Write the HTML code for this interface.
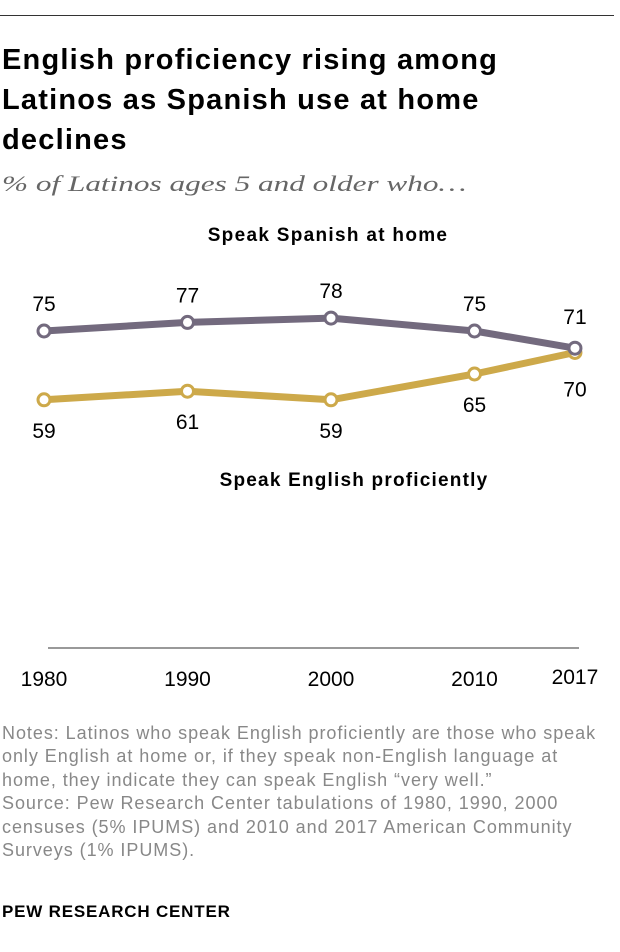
<!DOCTYPE html>
<html><head><meta charset="utf-8"><style>
body{margin:0;width:620px;height:952px;background:#fff;font-family:"Liberation Sans",sans-serif;position:relative;overflow:hidden}
.abs{position:absolute}
</style></head><body>
<div class="abs" style="left:0;top:15px;width:614px;height:1px;background:#333"></div>
<div class="abs" style="left:2px;top:40px;width:530px;font-weight:bold;font-size:29px;letter-spacing:1.2px;line-height:40px;color:#000">English proficiency rising among Latinos as Spanish use at home declines</div>
<div class="abs" style="left:2px;top:171px;font-family:'Liberation Serif',serif;font-style:italic;font-size:22px;color:#666;transform:scaleX(1.42);transform-origin:left;white-space:nowrap">% of Latinos ages 5 and older who…</div>
<svg class="abs" style="left:0;top:0" width="620" height="720">
<g id="g"></g>
</svg>
<div class="abs" style="left:2px;top:722px;width:618px;font-size:18px;letter-spacing:0.95px;line-height:23.4px;color:#888;white-space:nowrap">Notes: Latinos who speak English proficiently are those who speak<br>only English at home or, if they speak non-English language at<br>home, they indicate they can speak English “very well.”<br>Source: Pew Research Center tabulations of 1980, 1990, 2000<br>censuses (5% IPUMS) and 2010 and 2017 American Community<br>Surveys (1% IPUMS).</div>
<div class="abs" style="left:2px;top:902px;font-size:17px;letter-spacing:0.8px;font-weight:bold;color:#000">PEW RESEARCH CENTER</div>
<script>
const years=[1980,1990,2000,2010,2017];
const spanish=[75,77,78,75,71];
const english=[59,61,59,65,70];
const tickLabels=["1980","1990","2000","2010","2017"];
const X=y=>44+(y-1980)*14.35;
const Y=v=>331-(v-75)*4.3;
const g=document.getElementById('g');
const NS='http://www.w3.org/2000/svg';
function mk(t,a){const e=document.createElementNS(NS,t);for(const k in a)e.setAttribute(k,a[k]);g.appendChild(e);return e;}
let ax=mk('line',{x1:48,x2:579,y1:648,y2:648,stroke:'#999','stroke-width':2});


years.forEach((yr,i)=>{
 const t=mk('text',{x:X(yr),y:i==4?684:686,'text-anchor':'middle','font-size':21,fill:'#000'});
 t.textContent=tickLabels[i];
 
 
});
function series(vals,col,name,above){
 const p=mk('polyline',{points:vals.map((v,i)=>X(years[i])+','+Y(v)).join(' '),fill:'none',stroke:col,'stroke-width':7,'stroke-linejoin':'round'});
 
 
 vals.forEach((v,i)=>{
  const c=mk('circle',{cx:X(years[i]),cy:Y(v),r:6,fill:'#fff',stroke:col,'stroke-width':3});
  
  
  let ly=above?Y(v)-20:Y(v)+38;
  if(i==4) ly=above?Y(v)-24:Y(v)+44;
  const t=mk('text',{x:X(years[i]),y:ly,'text-anchor':'middle','font-size':21,fill:'#000'});
  t.textContent=v;
  
  
 });
}
series(english,'#cda94a','english',false);
series(spanish,'#736a7e','spanish',true);
let l1=mk('text',{x:328,y:241,'text-anchor':'middle','font-size':19,'letter-spacing':1.3,'font-weight':'bold',fill:'#000'});
l1.textContent='Speak Spanish at home';


let l2=mk('text',{x:354,y:486,'text-anchor':'middle','font-size':19,'letter-spacing':1.2,'font-weight':'bold',fill:'#000'});
l2.textContent='Speak English proficiently';


</script>
</body></html>
